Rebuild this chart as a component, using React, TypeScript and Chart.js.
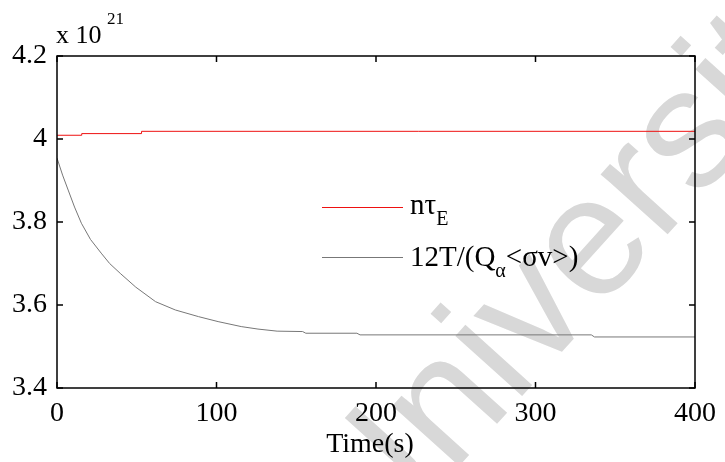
import React, { useEffect, useRef } from "react";
import { Chart, registerables } from "chart.js";

Chart.register(...registerables);

// ---- data (values in units of 10^21) ----
const redTime = [0, 15.5, 53, 400];
const redValue = [4.009, 4.013, 4.0185, 4.0185];

const grayTime = [0, 3.5, 7, 11, 15.3, 21, 27.7, 33, 40, 49.4, 61.8, 74.2, 88.7, 101, 115.5, 126, 138, 154, 156, 188, 190, 335, 337, 400];
const grayValue = [3.954, 3.913, 3.877, 3.836, 3.797, 3.758, 3.725, 3.7, 3.675, 3.643, 3.608, 3.588, 3.572, 3.56, 3.548, 3.542, 3.537, 3.536, 3.532, 3.532, 3.528, 3.528, 3.523, 3.523];

const xTicks = [0, 100, 200, 300, 400];
const yTicks = [3.4, 3.6, 3.8, 4.0, 4.2];

const xTitle = "Time(s)";
const yMultiplier = "x 10";
const yExponent = "21";
const legendRed: [string, boolean][] = [["nτ", false], ["E", true]];
const legendGray: [string, boolean][] = [["12T/(Q", false], ["α", true], ["<σv>)", false]];
const watermark = "University";

const SERIF = '"Liberation Serif", "Times New Roman", serif';
const RED = "#ee1111";
const GRAY = "#777777";

function drawSegments(ctx: CanvasRenderingContext2D, segs: [string, boolean][], x: number, y: number) {
  let cx = x;
  for (const [t, sub] of segs) {
    ctx.font = sub ? `20px ${SERIF}` : `29px ${SERIF}`;
    ctx.fillText(t, cx, sub ? y + 11 : y);
    cx += ctx.measureText(t).width;
  }
}

const overlay = {
  id: "overlay",
  beforeDraw(chart: any) {
    const ctx = chart.ctx as CanvasRenderingContext2D;
    ctx.save();
    ctx.fillStyle = "#d8d8d8";
    ctx.font = '170px "Liberation Sans", Arial, sans-serif';
    ctx.translate(369, 566);
    ctx.rotate((-48 * Math.PI) / 180);
    ctx.textBaseline = "alphabetic";
    ctx.fillText(watermark, 0, 0);
    ctx.restore();
  },
  afterDraw(chart: any) {
    const ctx = chart.ctx as CanvasRenderingContext2D;
    const { left, right, top, bottom } = chart.chartArea;
    const xs = chart.scales.x;
    const ys = chart.scales.y;
    ctx.save();
    ctx.strokeStyle = "#000";
    ctx.lineWidth = 1.5;
    ctx.strokeRect(left, top, right - left, bottom - top);
    const tl = 6;
    ctx.beginPath();
    for (const v of xTicks) {
      const px = xs.getPixelForValue(v);
      ctx.moveTo(px, bottom);
      ctx.lineTo(px, bottom - tl);
      ctx.moveTo(px, top);
      ctx.lineTo(px, top + tl);
    }
    for (const v of yTicks) {
      const py = ys.getPixelForValue(v);
      ctx.moveTo(left, py);
      ctx.lineTo(left + tl, py);
      ctx.moveTo(right, py);
      ctx.lineTo(right - tl, py);
    }
    ctx.stroke();

    // texts
    ctx.fillStyle = "#000";
    ctx.textBaseline = "alphabetic";
    ctx.textAlign = "center";
    ctx.font = `28px ${SERIF}`;
    ctx.fillText(xTitle, (left + right) / 2 - 6, 452);
    ctx.textAlign = "left";
    ctx.font = `26px ${SERIF}`;
    ctx.fillText(yMultiplier, 56, 43);
    ctx.font = `17px ${SERIF}`;
    ctx.fillText(yExponent, 107, 24);

    // legend
    ctx.lineWidth = 1;
    ctx.strokeStyle = RED;
    ctx.beginPath();
    ctx.moveTo(322, 207.5);
    ctx.lineTo(403, 207.5);
    ctx.stroke();
    ctx.strokeStyle = GRAY;
    ctx.beginPath();
    ctx.moveTo(322, 257.5);
    ctx.lineTo(403, 257.5);
    ctx.stroke();
    drawSegments(ctx, legendRed, 410, 214);
    drawSegments(ctx, legendGray, 410, 266);
    ctx.restore();
  },
};

export default function App() {
  const ref = useRef<HTMLCanvasElement | null>(null);
  useEffect(() => {
    if (!ref.current) return;
    Chart.defaults.font.family = SERIF;
    const chart = new Chart(ref.current, {
      type: "line",
      data: {
        datasets: [
          {
            label: "ntE",
            data: redTime.map((t, i) => ({ x: t, y: redValue[i] })),
            borderColor: RED,
            borderWidth: 1,
            pointRadius: 0,
            stepped: "before",
          },
          {
            label: "12T",
            data: grayTime.map((t, i) => ({ x: t, y: grayValue[i] })),
            borderColor: GRAY,
            borderWidth: 1,
            pointRadius: 0,
            tension: 0,
          },
        ],
      },
      options: {
        responsive: false,
        animation: false,
        events: [],
        layout: { padding: { left: 0, right: 23, top: 56, bottom: 0 } },
        plugins: { legend: { display: false }, tooltip: { enabled: false } },
        scales: {
          x: {
            type: "linear",
            min: 0,
            max: 400,
            grid: { display: false, drawTicks: false },
            border: { display: false },
            afterBuildTicks: (s: any) => {
              s.ticks = xTicks.map((v) => ({ value: v }));
            },
            afterFit: (s: any) => {
              s.height = 74;
            },
            ticks: {
              color: "#000",
              font: { size: 28, family: SERIF },
              padding: 9,
              maxRotation: 0,
              autoSkip: false,
              callback: (v: any) => String(v),
            },
          },
          y: {
            type: "linear",
            min: 3.4,
            max: 4.2,
            grid: { display: false, drawTicks: false },
            border: { display: false },
            afterBuildTicks: (s: any) => {
              s.ticks = yTicks.map((v) => ({ value: v }));
            },
            afterFit: (s: any) => {
              s.width = 57;
            },
            ticks: {
              color: "#000",
              font: { size: 28, family: SERIF },
              padding: 10,
              autoSkip: false,
              callback: (v: any) => String(+Number(v).toFixed(1)),
            },
          },
        },
      },
      plugins: [overlay],
    });
    return () => chart.destroy();
  }, []);
  return (
    <div style={{ position: "absolute", left: 0, top: 0, width: 725, height: 462, background: "#fff" }}>
      <canvas ref={ref} width={725} height={462} style={{ width: 725, height: 462, display: "block" }} />
    </div>
  );
}
